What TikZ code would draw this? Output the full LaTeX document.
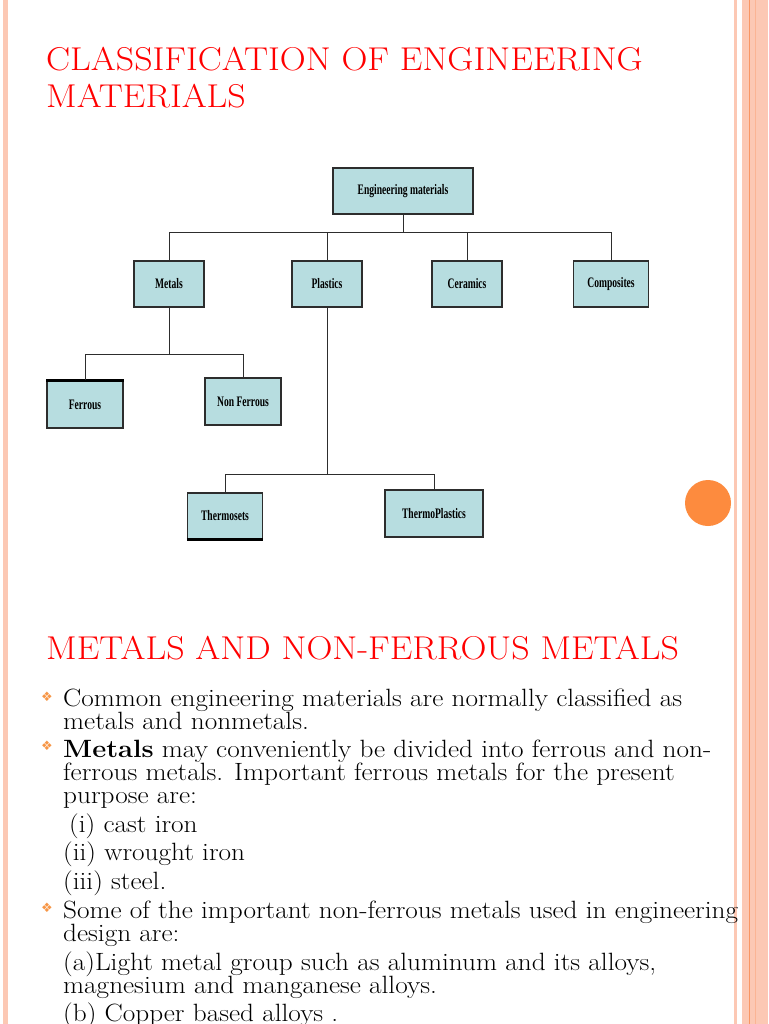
\documentclass[tikz,border=0pt]{standalone}
\usepackage{fontspec}
\usepackage{tikz}
\usetikzlibrary{positioning,calc}
\setmainfont[FakeStretch=1.09]{Latin Modern Roman}
\newfontfamily\boxfont[FakeStretch=0.66]{Liberation Serif}
\newfontfamily\symfont{DejaVu Sans}
\definecolor{boxblue}{RGB}{183,221,224}
\definecolor{boxline}{RGB}{45,45,45}
\definecolor{peach}{RGB}{252,200,180}
\definecolor{peachdark}{RGB}{249,150,100}
\definecolor{dotorange}{RGB}{253,139,62}
\definecolor{bulletorange}{RGB}{247,150,70}
\definecolor{titlered}{RGB}{255,0,0}

\begin{document}
\begin{tikzpicture}[x=1pt,y=-1pt,
  box/.style={draw=boxline,fill=boxblue,line width=1.1pt,inner sep=0pt,
    font=\boxfont\bfseries\fontsize{14.5}{15}\selectfont},
  link/.style={draw=boxline,line width=1pt},
  heading/.style={anchor=base west,inner sep=0pt,text=titlered,
    font=\fontsize{33}{36}\selectfont},
  body/.style={anchor=base west,inner sep=0pt,font=\fontsize{25}{28}\selectfont},
  bullet/.style={inner sep=0pt,text=bulletorange,font=\symfont\fontsize{13}{13}\selectfont}]

% Page and side stripes
\useasboundingbox (0,0) rectangle (768,1024);
\fill[white] (0,0) rectangle (768,1024);
\fill[peach] (3.3,0) rectangle (8.3,1024);
\fill[peach] (734.3,0) rectangle (737.3,1024);
\fill[peach] (742.3,0) rectangle (768,1024);
\draw[peachdark,line width=1pt] (749.3,0) -- (749.3,1024);
\draw[peachdark!40!peach,line width=0.8pt] (755.3,0) -- (755.3,1024);
\fill[dotorange] (708,503) circle[radius=23pt];

% Headings
\node (title1) at (46,71) [heading] {CLASSIFICATION OF ENGINEERING};
\node (title2) at (46,108) [heading] {MATERIALS};
\node (title3) at (46,659) [heading] {METALS AND NON-FERROUS METALS};

% Tree of materials
\node (em) at (403,191) [box,minimum width=140,minimum height=46] {Engineering materials};
\node (metals) at (169,284) [box,minimum width=70,minimum height=46] {Metals};
\node (plastics) at (327,284) [box,minimum width=70,minimum height=46] {Plastics};
\node (ceramics) at (467,284) [box,minimum width=70,minimum height=46] {Ceramics};
\node (composites) at (611,284) [box,minimum width=75,minimum height=46] {Composites};
\node (ferrous) at (85,404.5) [box,minimum width=76,minimum height=47] {Ferrous};
\node (nonferrous) at (243,401.5) [box,minimum width=76,minimum height=47] {Non Ferrous};
\node (thermosets) at (225,516) [box,minimum width=75,minimum height=46] {Thermosets};
\node (thermoplastics) at (434,513.5) [box,minimum width=98,minimum height=47] {ThermoPlastics};
\draw[line width=2.4pt] (ferrous.north west) -- (ferrous.north east);
\draw[line width=2.4pt] (thermosets.south west) -- (thermosets.south east);

\coordinate (bus1) at (403,233);
\coordinate (bus2) at (169,354);
\coordinate (bus3) at (327,474);
\draw[link] (em.south) -- (bus1);
\foreach \n in {metals,plastics,ceramics,composites}
    \draw[link] (\n.north) |- (bus1);
\draw[link] (metals.south) -- (bus2);
\foreach \n in {ferrous,nonferrous}
    \draw[link] (\n.north) |- (bus2);
\draw[link] (plastics.south) -- (bus3);
\foreach \n in {thermosets,thermoplastics}
    \draw[link] (\n.north) |- (bus3);

% Bullets and text
\foreach \y [count=\k] in {697,746,908}
    \node (bul\k) at (47,\y) [bullet] {❖};
\foreach \x/\y/\txt [count=\k] in {
    63/706/{Common engineering materials are normally classified as},
    63/729/{metals and nonmetals.},
    63/757/{\textbf{Metals} may conveniently be divided into ferrous and non-},
    63/780/{ferrous metals. Important ferrous metals for the present},
    63/803/{purpose are:},
    69/832/{(i) cast iron},
    63/860/{(ii) wrought iron},
    63/889/{(iii) steel.},
    63/918/{Some of the important non-ferrous metals used in engineering},
    63/941/{design are:},
    63/970/{(a)Light metal group such as aluminum and its alloys,},
    63/993/{magnesium and manganese alloys.},
    63/1021/{(b) Copper based alloys .}}
    \node (line\k) at (\x,\y) [body] {\txt};
\end{tikzpicture}
\end{document}
